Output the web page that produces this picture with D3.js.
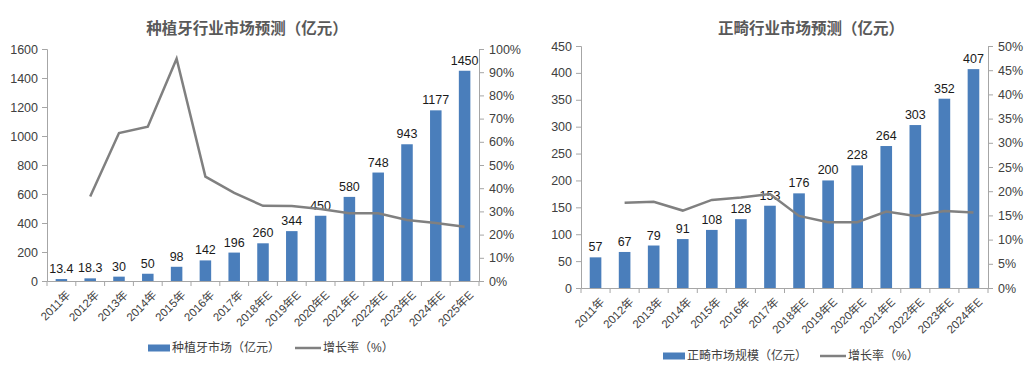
<!DOCTYPE html>
<html><head><meta charset="utf-8">
<script src="https://cdn.jsdelivr.net/npm/d3@7"></script>
<style>body{margin:0;background:#fff}svg{display:block}text{font-family:"Liberation Sans","Noto Sans CJK SC",sans-serif}</style>
</head><body>
<svg id="c" width="1031" height="374"></svg>
<script>
// ---- data ----
const implantYears = ["2011年","2012年","2013年","2014年","2015年","2016年","2017年","2018年E","2019年E","2020年E","2021年E","2022年E","2023年E","2024年E","2025年E"];
const implantMarket = [13.4,18.3,30,50,98,142,196,260,344,450,580,748,943,1177,1450];
const implantLabels = ["13.4","18.3","30","50","98","142","196","260","344","450","580","748","943","1177","1450"];
const implantGrowth = [null,36.4,63.8,66.5,95.8,45,38,32.4,32.3,31,29.2,29.2,26.3,25,23.4];
const implantLeftTicks = [0,200,400,600,800,1000,1200,1400,1600];
const implantRightTicks = [0,10,20,30,40,50,60,70,80,90,100];

const orthoYears = ["2011年","2012年","2013年","2014年","2015年","2016年","2017年","2018年E","2019年E","2020年E","2021年E","2022年E","2023年E","2024年E"];
const orthoMarket = [57,67,79,91,108,128,153,176,200,228,264,303,352,407];
const orthoGrowth = [null,17.6,17.8,16.0,18.2,18.7,19.4,14.9,13.6,13.6,15.8,14.9,15.9,15.6];
const orthoLeftTicks = [0,50,100,150,200,250,300,350,400,450];
const orthoRightTicks = [0,5,10,15,20,25,30,35,40,45,50];

const barColor = "#4a7ebb", lineColor = "#808080", axisColor = "#a6a6a6", textColor = "#404040";
const svg = d3.select("#c");

function drawChart(o){
  const g = svg.append("g");
  const x = d3.scaleBand().domain(o.cats).range([o.x0,o.x1]).paddingInner(0.6).paddingOuter(0.3);
  const xb = d3.scaleBand().domain(o.cats).range([o.x0,o.x1]);
  const y = d3.scaleLinear().domain([0,o.lMax]).range([o.yb,o.yt]);
  const y2 = d3.scaleLinear().domain([0,o.rMax]).range([o.yb,o.yt]);

  // title
  g.append("text").attr("x",o.tx).attr("y",34).attr("text-anchor","middle")
    .attr("font-size",15.5).attr("font-weight","bold").attr("fill","#595959").text(o.title);

  // left axis
  const la = g.append("g").attr("transform",`translate(${o.x0},0)`)
    .call(d3.axisLeft(y).tickValues(o.lTicks).tickFormat(d3.format("d")).tickSize(5).tickPadding(4));
  // right axis
  const ra = g.append("g").attr("transform",`translate(${o.x1},0)`)
    .call(d3.axisRight(y2).tickValues(o.rTicks).tickFormat(d=>d+"%").tickSize(5).tickPadding(5));
  [la,ra].forEach(a=>{
    a.select(".domain").attr("stroke",axisColor);
    a.selectAll(".tick line").attr("stroke",axisColor);
    a.selectAll(".tick text").attr("font-size",12.5).attr("fill",textColor)
      .attr("font-family",'"Liberation Sans",sans-serif');
  });

  // bars
  g.selectAll(".bar").data(o.vals).join("rect")
    .attr("x",(d,i)=>x(o.cats[i])).attr("width",x.bandwidth())
    .attr("y",d=>y(d)).attr("height",d=>o.yb-y(d)).attr("fill",barColor);

  // data labels
  g.selectAll(".lbl").data(o.vals).join("text")
    .attr("x",(d,i)=>x(o.cats[i])+x.bandwidth()/2).attr("y",d=>y(d)-6)
    .attr("text-anchor","middle").attr("font-size",12.5).attr("fill","#1a1a1a")
    .text((d,i)=>o.labels ? o.labels[i] : d);

  // x axis
  const xa = g.append("g").attr("transform",`translate(0,${o.yb})`)
    .call(d3.axisBottom(xb).tickSize(0).tickFormat(""));
  xa.select(".domain").attr("stroke",axisColor);
  g.selectAll(".xt").data(o.cats.concat([null])).join("line")
    .attr("x1",(d,i)=>o.x0+i*xb.step()).attr("x2",(d,i)=>o.x0+i*xb.step())
    .attr("y1",o.yb).attr("y2",o.yb+5).attr("stroke",axisColor);
  g.selectAll(".xl").data(o.cats).join("text")
    .attr("transform",d=>`translate(${xb(d)+xb.bandwidth()/2+4},${o.yb+9}) rotate(-45)`)
    .attr("text-anchor","end").attr("dy","0.7em").attr("font-size",11.5).attr("fill",textColor)
    .text(d=>d);

  // growth line
  const line = d3.line().defined(d=>d!=null)
    .x((d,i)=>xb(o.cats[i])+xb.bandwidth()/2).y(d=>y2(d));
  g.append("path").datum(o.growth).attr("d",line).attr("fill","none")
    .attr("stroke",lineColor).attr("stroke-width",2.5).attr("stroke-linejoin","miter");

  // legend
  g.append("rect").attr("x",o.lgx).attr("y",o.lgy-3.5).attr("width",22).attr("height",7).attr("fill",barColor);
  g.append("text").attr("x",o.lgx+24).attr("y",o.lgy).attr("dy","0.35em").attr("font-size",12)
    .attr("fill",textColor).text(o.leg1);
  g.append("line").attr("x1",o.lgx2).attr("x2",o.lgx2+26).attr("y1",o.lgy).attr("y2",o.lgy)
    .attr("stroke",lineColor).attr("stroke-width",2.5);
  g.append("text").attr("x",o.lgx2+28).attr("y",o.lgy).attr("dy","0.35em").attr("font-size",12)
    .attr("fill",textColor).text("增长率（%）");
}

drawChart({cats:implantYears, vals:implantMarket, labels:implantLabels, growth:implantGrowth,
  lTicks:implantLeftTicks, rTicks:implantRightTicks, lMax:1600, rMax:100,
  x0:47, x1:479, yt:49, yb:281, title:"种植牙行业市场预测（亿元）", tx:247,
  lgx:148, lgx2:295, lgy:348, leg1:"种植牙市场（亿元）"});
drawChart({cats:orthoYears, vals:orthoMarket, growth:orthoGrowth,
  lTicks:orthoLeftTicks, rTicks:orthoRightTicks, lMax:450, rMax:50,
  x0:581, x1:988, yt:46, yb:288, title:"正畸行业市场预测（亿元）", tx:811,
  lgx:663, lgx2:820, lgy:356, leg1:"正畸市场规模（亿元）"});
</script>
</body></html>
